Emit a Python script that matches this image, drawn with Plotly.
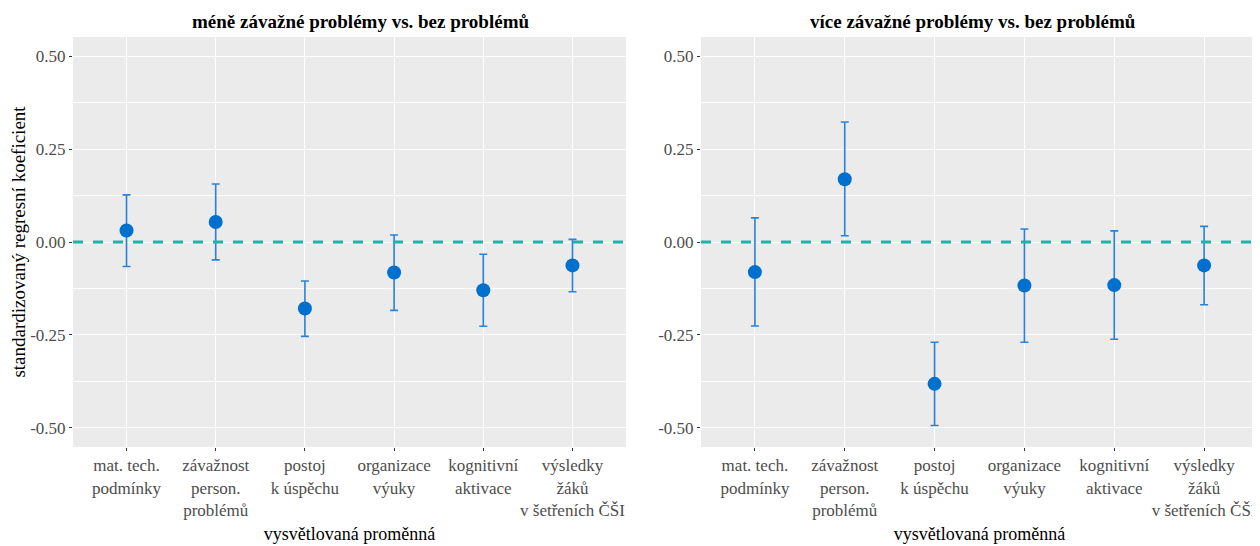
import plotly.graph_objects as go

categories = ["mat. tech.<br>podmínky", "závažnost<br>person.<br>problémů", "postoj<br>k úspěchu",
              "organizace<br>výuky", "kognitivní<br>aktivace", "výsledky<br>žáků<br>v šetřeních ČŠI"]

# left panel: méně závažné problémy vs. bez problémů
left_est = [0.031, 0.054, -0.179, -0.082, -0.130, -0.063]
left_lo = [-0.066, -0.048, -0.254, -0.184, -0.227, -0.134]
left_hi = [0.127, 0.156, -0.105, 0.019, -0.033, 0.007]

# right panel: více závažné problémy vs. bez problémů
right_est = [-0.081, 0.169, -0.382, -0.117, -0.116, -0.063]
right_lo = [-0.226, 0.017, -0.494, -0.270, -0.262, -0.169]
right_hi = [0.065, 0.323, -0.270, 0.035, 0.030, 0.042]

titles = ["méně závažné problémy vs. bez problémů", "více závažné problémy vs. bez problémů"]
y_ticks = [-0.50, -0.25, 0.00, 0.25, 0.50]
y_ticktext = ["-0.50", "-0.25", "0.00", "0.25", "0.50"]
y_minor = [-0.375, -0.125, 0.125, 0.375]

# page has an 8px body margin: figure is drawn 8px in from the window corner
OFF = 8
W, H = 1260 - OFF, 546 - OFF
FONT = "Liberation Serif"
PT_COLOR = "#0070cf"
BAR_COLOR = "#2a82d8"


def px_x(p):
    return (p - OFF) / W


def px_y(p):
    return 1 - (p - OFF) / H


fig = go.Figure()

panels = [(left_est, left_lo, left_hi, "x", "y"), (right_est, right_lo, right_hi, "x2", "y2")]
for est, lo, hi, xa, ya in panels:
    fig.add_trace(go.Scatter(
        x=categories, y=est, mode="markers", xaxis=xa, yaxis=ya,
        marker=dict(size=14, color=PT_COLOR, line=dict(width=0)),
        error_y=dict(type="data", symmetric=False,
                     array=[h - e for h, e in zip(hi, est)],
                     arrayminus=[e - l for e, l in zip(est, lo)],
                     color=BAR_COLOR, thickness=1.6, width=4),
        showlegend=False, hoverinfo="skip"))

ydom = [px_y(447), px_y(37)]
xdoms = [[px_x(73), px_x(626)], [px_x(701), px_x(1258)]]

common_x = dict(type="category", categoryorder="array", categoryarray=categories,
                range=[-0.6, 5.6], showgrid=True, gridcolor="white", gridwidth=1.1,
                zeroline=False, showline=False, ticks="outside", ticklen=3,
                tickcolor="#333333", tickwidth=1, tickangle=0,
                tickfont=dict(family=FONT, size=17, color="#4d4d4d"),
                title=dict(text="vysvětlovaná proměnná", font=dict(family=FONT, size=18, color="black"),
                           standoff=8),
                fixedrange=True)
common_y = dict(range=[-0.552, 0.552], tickvals=y_ticks, ticktext=y_ticktext,
                showgrid=True, gridcolor="white", gridwidth=1.1, zeroline=False,
                showline=False, ticks="outside", ticklen=3, tickcolor="#333333", tickwidth=1,
                tickfont=dict(family=FONT, size=17, color="#4d4d4d"),
                minor=dict(tickvals=y_minor, showgrid=True, gridcolor="white", gridwidth=0.5, ticks=""),
                fixedrange=True)

fig.update_layout(
    width=W, height=H,
    margin=dict(l=0, r=0, t=0, b=0),
    paper_bgcolor="white", plot_bgcolor="#ebebeb",
    font=dict(family=FONT, size=17, color="black"),
    xaxis=dict(common_x, domain=xdoms[0], anchor="y"),
    xaxis2=dict(common_x, domain=xdoms[1], anchor="y2"),
    yaxis=dict(common_y, domain=ydom, anchor="x",
               title=dict(text="standardizovaný regresní koeficient",
                          font=dict(family=FONT, size=19, color="black"), standoff=4)),
    yaxis2=dict(common_y, domain=ydom, anchor="x2"),
)

# zero reference lines
for xa, ya in [("x", "y"), ("x2", "y2")]:
    fig.add_shape(type="line", xref=f"{xa} domain", yref=ya, x0=0, x1=1, y0=0, y1=0,
                  line=dict(color="#20b2aa", width=3, dash="10px,10px"), layer="above")

# panel titles
for t, xc in zip(titles, [360, 973]):
    fig.add_annotation(text=f"<b>{t}</b>", xref="paper", yref="paper", x=px_x(xc), y=px_y(22),
                       xanchor="center", yanchor="middle", showarrow=False,
                       font=dict(family=FONT, size=19, color="black"))

fig.write_html("out.html")
